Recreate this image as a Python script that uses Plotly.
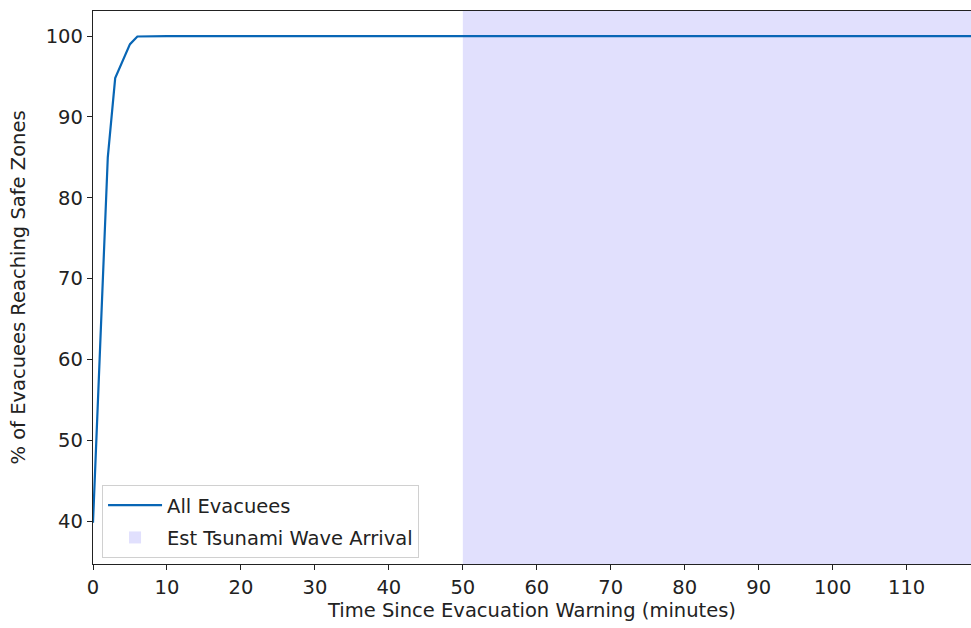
import plotly.graph_objects as go

minutes = [0, 1, 2, 3, 4, 5, 6, 8, 10, 20, 30, 40, 50, 60, 70, 80, 90, 100, 110, 120]
pct_safe = [39.8, 62.5, 85.0, 94.8, 97.0, 99.0, 99.95, 100.0, 100.0, 100.0, 100.0, 100.0,
            100.0, 100.0, 100.0, 100.0, 100.0, 100.0, 100.0, 100.0]
wave_start = 50
wave_end = 125
x_ticks = list(range(0, 120, 10))
y_ticks = list(range(40, 101, 10))

FONT = "DejaVu Sans"
FS = 19.5
fig = go.Figure()
fig.add_vrect(x0=wave_start, x1=wave_end, fillcolor="#e1e0fd", line_width=0, layer="below",
              showlegend=True, name="Est Tsunami Wave Arrival", legendrank=2, legendgroup="b")
fig.add_trace(go.Scatter(x=minutes, y=pct_safe, mode="lines", name="All Evacuees",
                         line=dict(color="#0866b5", width=2.2), legendrank=1, legendgroup="a"))

axis_common = dict(showgrid=False, zeroline=False, ticks="outside", ticklen=5, tickwidth=1.2,
                   tickcolor="#222", linecolor="#222", linewidth=1.3, showline=True,
                   tickfont=dict(family=FONT, size=FS, color="#222"))
fig.update_layout(
    width=971, height=628,
    margin=dict(l=93, r=0, t=11, b=64),
    plot_bgcolor="white", paper_bgcolor="white",
    font=dict(family=FONT, size=FS, color="#222"),
    xaxis=dict(range=[0, 118.7], tickvals=x_ticks, mirror=True,
               title=dict(text="Time Since Evacuation Warning (minutes)", standoff=2,
                          font=dict(family=FONT, size=FS)), **axis_common),
    yaxis=dict(range=[34.7, 103.1], tickvals=y_ticks,
               title=dict(text="% of Evacuees Reaching Safe Zones", standoff=14,
                          font=dict(family=FONT, size=FS)), **axis_common),
    legend=dict(x=0.0103, y=0.011, xanchor="left", yanchor="bottom", itemwidth=54,
                bgcolor="rgba(255,255,255,0.9)", bordercolor="#d0d0d0", borderwidth=1,
                font=dict(family=FONT, size=FS, color="#222"), tracegroupgap=4),
    showlegend=True,
)
fig.write_html("out.html")
